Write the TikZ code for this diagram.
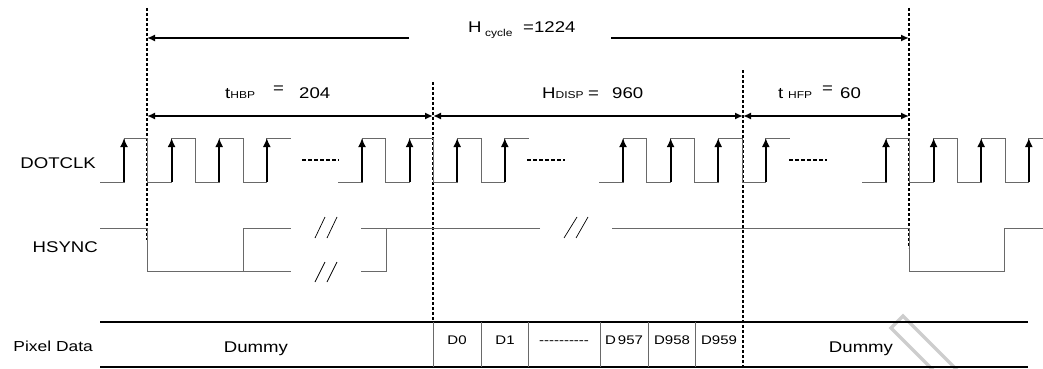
\documentclass[tikz,border=0pt]{standalone}
\usepackage{fontspec}
\setmainfont{Liberation Sans}[FakeStretch=1.2]
\usetikzlibrary{arrows.meta}

\definecolor{senalGris}{RGB}{105,105,105}
\definecolor{marcaGris}{RGB}{205,205,205}

\newcommand{\fuenteN}{\fontsize{15.5}{18}\selectfont}
\newcommand{\fuenteD}{\fontsize{14.5}{17}\selectfont}
\newcommand{\fuenteP}{\fontsize{12.5}{15}\selectfont}
\newcommand{\fuenteS}{\fontsize{10}{12}\selectfont}

\tikzset{
  etiqueta/.style={inner sep=0pt, font=\fuenteN},
  senal/.style={draw=senalGris, line width=0.9pt},
  flanco/.style={-{Latex[length=9pt,width=8pt]}, line width=1.8pt, draw=black},
  cota/.style={{Latex[length=8pt,width=7pt]}-{Latex[length=8pt,width=7pt]}, line width=1.8pt, draw=black},
  cotad/.style={-{Latex[length=8pt,width=7pt]}, line width=1.8pt, draw=black},
  guia/.style={draw=black, line width=1.2pt, dash pattern=on 3pt off 2pt},
  puntos/.style={draw=black, line width=1.2pt, dash pattern=on 4pt off 2pt},
  corte/.style={draw=black, line width=0.7pt},
  borde/.style={draw=black, line width=1.1pt},
  separa/.style={draw=senalGris, line width=1pt},
  marca/.style={draw=marcaGris, line width=3.5pt}
}

\begin{document}
\begin{tikzpicture}[x=1pt, y=-1pt]
  \useasboundingbox (0,0) rectangle (1043,369);
  \clip (0,0) rectangle (1043,369);

  % marca de agua
  \draw[marca] (962,375) -- (903,316) -- (891,328) -- (938,375);

  % lineas guia
  \coordinate (g1a) at (147,8);   \coordinate (g1b) at (147,240);
  \coordinate (g2a) at (433,82);  \coordinate (g2b) at (433,322);
  \coordinate (g3a) at (743,70);  \coordinate (g3b) at (743,367);
  \coordinate (g4a) at (909,8);   \coordinate (g4b) at (909,248);
  \draw[guia] (g1a) -- (g1b);
  \draw[guia] (g2a) -- (g2b);
  \draw[guia] (g3a) -- (g3b);
  \draw[guia] (g4a) -- (g4b);

  % cotas
  \coordinate (hc0) at (147,38);  \coordinate (hc1) at (409,38);
  \coordinate (hc2) at (611,38);  \coordinate (hc3) at (909,38);
  \draw[cotad] (hc1) -- (hc0);
  \draw[cotad] (hc2) -- (hc3);
  \coordinate (c1) at (147,116);  \coordinate (c2) at (433,116);
  \coordinate (c3) at (743,116);  \coordinate (c4) at (909,116);
  \draw[cota] (c1) -- (c2);
  \draw[cota] (c2) -- (c3);
  \draw[cota] (c3) -- (c4);

  \node[etiqueta, anchor=base west] (hcyc) at (468,33) {H};
  \node[etiqueta, font=\fuenteS, anchor=base west] (hcycsub) at (485,37) {cycle};
  \node[etiqueta, anchor=base west] (hcycval) at (523,33) {=1224};

  \node[etiqueta, anchor=base west] (thbp) at (225,98) {t{\fuenteS HBP}};
  \node[etiqueta, anchor=base] (thbpeq) at (278.5,93) {=};
  \node[etiqueta, anchor=base west] (thbpval) at (299,98) {204};

  \node[etiqueta, anchor=base west] (hdisp) at (542,98) {H{\fuenteS DISP}};
  \node[etiqueta, anchor=base] (hdispeq) at (593.5,98) {=};
  \node[etiqueta, anchor=base west] (hdispval) at (612,98) {960};

  \node[etiqueta, anchor=base west] (thfp) at (778,98) {t};
  \node[etiqueta, font=\fuenteS, anchor=base west] (thfpsub) at (788,98) {HFP};
  \node[etiqueta, anchor=base] (thfpeq) at (827.5,93) {=};
  \node[etiqueta, anchor=base west] (thfpval) at (840,98) {60};

  % DOTCLK
  \node[etiqueta, anchor=base east] (dotclk) at (96,168) {DOTCLK};
  \foreach \s in {124,362,623,886}{
    \draw[senal] (\s-23.8,182)
      foreach \k in {0,1,2} { -- ++(23.8,0) -- ++(0,-44) -- ++(23.8,0) -- ++(0,44) }
      -- ++(23.8,0) -- ++(0,-44) -- ++(23.8,0);
    \foreach \k in {0,1,2,3}
      \draw[flanco] ({\s+47.6*\k},182) -- ({\s+47.6*\k},138);
  }
  \draw[puntos] (302,160) -- (339,160);
  \draw[puntos] (527,160) -- (565,160);
  \draw[puntos] (789,160) -- (827,160);

  % HSYNC
  \node[etiqueta, anchor=base east] (hsync) at (98,252) {HSYNC};
  \draw[senal] (100,228) -- (147,228) -- (147,271) -- (291,271);
  \draw[senal] (243,271) -- (243,228) -- (291,228);
  \draw[senal] (540,228) -- (361,228);
  \draw[senal] (361,271) -- (386,271) -- (386,228);
  \draw[senal] (612,228) -- (909,228) -- (909,271) -- (1004,271) -- (1004,228) -- (1043,228);
  \draw[corte] (315,238) -- (325,217) (327,238) -- (337,217);
  \draw[corte] (315,282) -- (325,262) (327,282) -- (337,262);
  \draw[corte] (564,238) -- (577,217) (576,238) -- (588,217);

  % Pixel Data
  \node[etiqueta, font=\fuenteD, anchor=base east] (pixel) at (93,351) {Pixel Data};
  \draw[borde] (100,322) -- (1028,322);
  \draw[borde] (100,367) -- (1028,367);
  \foreach \x in {433,481,528,600,648,695}
    \draw[separa] (\x,322) -- (\x,367);
  \node[etiqueta, anchor=base] (dummyA) at (256,352) {Dummy};
  \node[etiqueta, font=\fuenteP, anchor=base] (d0) at (457,344) {D0};
  \node[etiqueta, font=\fuenteP, anchor=base] (d1) at (505,344) {D1};
  \node[etiqueta, font=\fuenteP, anchor=base] (dpuntos) at (564,344) {-{}-{}-{}-{}-{}-{}-{}-{}-{}-};
  \node[etiqueta, font=\fuenteP, anchor=base] (d957) at (624,344) {D\,957};
  \node[etiqueta, font=\fuenteP, anchor=base] (d958) at (672,344) {D958};
  \node[etiqueta, font=\fuenteP, anchor=base] (d959) at (719,344) {D959};
  \node[etiqueta, anchor=base] (dummyB) at (861,352) {Dummy};
\end{tikzpicture}
\end{document}
